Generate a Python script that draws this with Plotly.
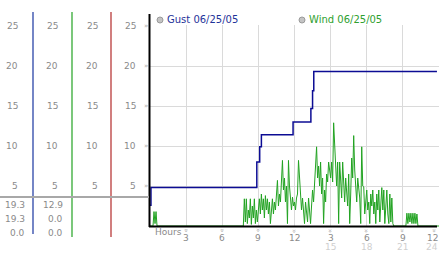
import plotly.graph_objects as go

# ---------------- data ----------------
gust_hours = [0, 0.08, 8.87, 9.11, 9.25, 11.88, 13.36, 13.5, 13.6, 23.83]
gust_vals = [2.6, 4.8, 8.0, 9.9, 11.4, 13.0, 14.7, 16.9, 19.3, 19.3]

# wind, one value every 5 minutes from 0h to 24h (12 values per hour)
wind_h00 = [0, 0, 0, 0, 1.8, 0.3, 1.8, 0, 0, 0, 0, 0]
wind_h01_06 = [0] * 72
wind_h07 = [0, 0, 0, 0, 0, 0, 0, 0, 0, 0, 3.4, 0.5]
wind_h08 = [3.4, 0.3, 2.0, 1.0, 3.4, 0.2, 2.5, 1.0, 3.4, 0.3, 2.0, 0.5]
wind_h09 = [2.0, 3.4, 1.5, 4.0, 2.0, 3.4, 1.0, 3.8, 2.0, 3.4, 1.5, 3.0]
wind_h10 = [0.3, 2.5, 3.4, 1.5, 3.0, 2.0, 4.0, 5.7, 2.5, 4.0, 3.0, 6.0]
wind_h11 = [8.2, 4.5, 6.0, 3.0, 5.0, 0.3, 8.2, 5.0, 3.0, 2.0, 3.6, 2.5]
wind_h12 = [3.0, 2.0, 3.5, 4.0, 8.2, 6.0, 4.0, 2.0, 3.5, 1.0, 0.3, 3.0]
wind_h13 = [2.0, 0.5, 3.5, 1.5, 0.3, 2.5, 4.5, 3.0, 5.5, 7.0, 9.9, 6.0]
wind_h14 = [7.5, 5.0, 8.0, 4.0, 6.0, 0.3, 4.5, 3.0, 6.5, 5.5, 8.0, 7.0]
wind_h15 = [6.0, 8.0, 5.5, 12.9, 10.0, 7.5, 5.0, 8.0, 0.3, 8.0, 5.0, 3.5]
wind_h16 = [8.0, 5.5, 3.0, 6.0, 4.5, 2.5, 6.5, 0.3, 4.0, 8.5, 6.0, 11.3]
wind_h17 = [7.0, 4.0, 3.0, 6.0, 4.5, 3.5, 0.3, 9.9, 5.0, 4.9, 1.5, 3.5]
wind_h18 = [4.5, 2.0, 3.0, 0.3, 4.0, 2.5, 4.5, 1.5, 3.0, 0.3, 4.0, 2.0]
wind_h19 = [4.5, 0.5, 3.5, 4.8, 2.0, 4.5, 0.3, 3.0, 4.5, 1.5, 0.3, 4.0]
wind_h20 = [0.5, 3.5, 0.3, 0, 0, 0, 0, 0, 0, 0, 0, 0]
wind_h21 = [0, 0, 0, 0, 1.6, 0.3, 1.6, 0.5, 1.6, 0.3, 1.6, 0.3]
wind_h22 = [1.6, 0.3, 1.5, 0, 0, 0, 0, 0, 0, 0, 0, 0]
wind_h23 = [0] * 12 + [0]

wind_vals = (wind_h00 + wind_h01_06 + wind_h07 + wind_h08 + wind_h09 + wind_h10
             + wind_h11 + wind_h12 + wind_h13 + wind_h14 + wind_h15 + wind_h16
             + wind_h17 + wind_h18 + wind_h19 + wind_h20 + wind_h21 + wind_h22 + wind_h23)
wind_hours = [i / 12 for i in range(len(wind_vals))]

y_ticks = [5, 10, 15, 20, 25]
x_ticks = [3, 6, 9, 12, 15, 18, 21, 24]
x_ticktext = ["3", "6", "9", "12", "3", "6", "9", "12"]
x_ticks2 = [15, 18, 21, 24]
x_ticktext2 = ["15", "18", "21", "24"]
gust_stats = ["19.3", "19.3", "0.0"]
wind_stats = ["12.9", "0.0", "0.0"]
legend_names = ["Gust 06/25/05", "Wind 06/25/05"]

# ---------------- layout geometry ----------------
W, H = 442, 253
L, R, T, B = 150, 3, 25, 26
PW = W - L - R
PH = H - T - B


def px(x):
    return (x - L) / PW


def py(y):
    return (H - B - y) / PH


GUST_C = "#0c0c94"
WIND_C = "#22a322"
GRID_C = "#dadada"
TXT_C = "#8a8a8a"
FONT = "DejaVu Sans"

fig = go.Figure()
fig.add_trace(go.Scatter(x=gust_hours, y=gust_vals, mode="lines",
                         line=dict(color=GUST_C, width=1.5, shape="hv"),
                         showlegend=False, hoverinfo="skip"))
fig.add_trace(go.Scatter(x=wind_hours, y=wind_vals, mode="lines",
                         line=dict(color=WIND_C, width=1.0),
                         showlegend=False, hoverinfo="skip"))

shapes = []
ann = []

# black axis lines
shapes.append(dict(type="line", xref="paper", yref="paper", x0=px(149.5), x1=px(149.5),
                   y0=py(227), y1=py(14), line=dict(color="black", width=2)))
shapes.append(dict(type="line", xref="paper", yref="paper", x0=px(149), x1=px(437),
                   y0=py(226.5), y1=py(226.5), line=dict(color="black", width=2)))

# left panel separators
for xc, col, ybot in [(33, "#2a44a8", 234), (72, "#33aa33", 237), (111, "#b83a3a", 237)]:
    shapes.append(dict(type="line", xref="paper", yref="paper", x0=px(xc), x1=px(xc),
                       y0=py(ybot), y1=py(12), line=dict(color=col, width=1.3)))
shapes.append(dict(type="line", xref="paper", yref="paper", x0=px(0), x1=px(149),
                   y0=py(197), y1=py(197), line=dict(color="#a8a8a8", width=2)))

# left panel tick labels (4 columns)
for right_edge in [20, 60, 100, 138]:
    for v in y_ticks:
        ann.append(dict(x=px(right_edge), xref="paper", y=v, yref="y", text=str(v),
                        showarrow=False, xanchor="right", yanchor="middle",
                        font=dict(family=FONT, size=9, color=TXT_C)))
for v in y_ticks:
    ann.append(dict(x=px(145.5), xref="paper", y=v, yref="y", text="»",
                    showarrow=False, xanchor="center", yanchor="middle",
                    font=dict(family=FONT, size=7, color="#aaaaaa")))

# stats
for i, (g, w) in enumerate(zip(gust_stats, wind_stats)):
    yy = 204.5 + 14 * i
    ann.append(dict(x=px(27), xref="paper", y=py(yy), yref="paper", text=g, showarrow=False,
                    xanchor="right", yanchor="middle", font=dict(family=FONT, size=9, color=TXT_C)))
    ann.append(dict(x=px(65), xref="paper", y=py(yy), yref="paper", text=w, showarrow=False,
                    xanchor="right", yanchor="middle", font=dict(family=FONT, size=9, color=TXT_C)))

# x tick labels
for v, t in zip(x_ticks, x_ticktext):
    edge = v == x_ticks[-1]
    ann.append(dict(x=px(440) if edge else v, xref="paper" if edge else "x", y=py(238),
                    yref="paper", text=t, showarrow=False,
                    xanchor="right" if edge else "center", yanchor="middle",
                    font=dict(family=FONT, size=9, color=TXT_C)))
    ann.append(dict(x=px(434) if edge else v, xref="paper" if edge else "x", y=py(230.5),
                    yref="paper", text="»", textangle=90,
                    showarrow=False, xanchor="center", yanchor="middle",
                    font=dict(family=FONT, size=7, color="#aaaaaa")))
for v, t in zip(x_ticks2, x_ticktext2):
    edge = v == x_ticks2[-1]
    ann.append(dict(x=px(440) if edge else v, xref="paper" if edge else "x", y=py(246.5),
                    yref="paper", text=t, showarrow=False,
                    xanchor="right" if edge else "center", yanchor="middle",
                    font=dict(family=FONT, size=9, color="#cfcfcf")))
ann.append(dict(x=px(153), xref="paper", y=py(232), yref="paper", text="Hours", showarrow=False,
                xanchor="left", yanchor="middle", font=dict(family=FONT, size=9, color=TXT_C)))

# legend
for (cx, name, col) in [(160, legend_names[0], "#1f3399"), (302, legend_names[1], "#2f9f2f")]:
    shapes.append(dict(type="circle", xref="paper", yref="paper", x0=px(cx - 3), x1=px(cx + 3),
                       y0=py(23), y1=py(17), fillcolor="#c4c4c4", line=dict(color="#9a9a9a", width=1)))
    ann.append(dict(x=px(cx + 4.5), xref="paper", y=py(20), yref="paper", text=name, showarrow=False,
                    xanchor="left", yanchor="middle", font=dict(family=FONT, size=10, color=col)))

fig.update_layout(
    width=W, height=H,
    margin=dict(l=L, r=R, t=T, b=B, pad=0),
    paper_bgcolor="white", plot_bgcolor="white",
    showlegend=False,
    shapes=shapes, annotations=ann,
    xaxis=dict(range=[0, 24], tickvals=x_ticks, showticklabels=False, showgrid=True,
               gridcolor=GRID_C, gridwidth=1, zeroline=False, showline=False, ticks=""),
    yaxis=dict(range=[-0.125, 25.125], tickvals=y_ticks, showticklabels=False, showgrid=True,
               gridcolor=GRID_C, gridwidth=1, zeroline=False, showline=False, ticks=""),
)

fig.write_html("out.html")
